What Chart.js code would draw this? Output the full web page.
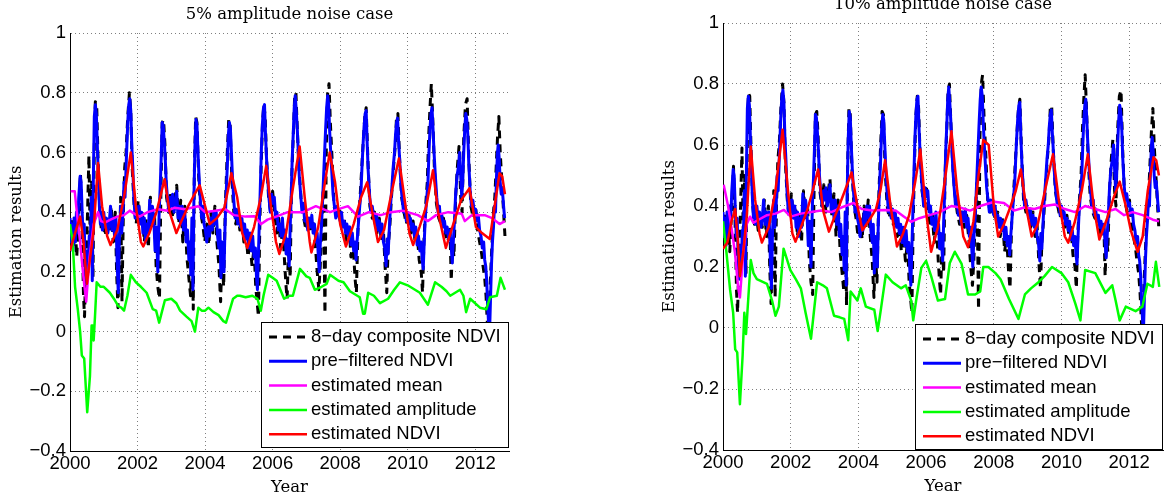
<!DOCTYPE html>
<html>
<head>
<meta charset="utf-8">
<script src="https://cdn.jsdelivr.net/npm/chart.js@4.4.0/dist/chart.umd.min.js"></script>
<style>
  body { margin: 0; background: #fff; }
  #wrap { position: relative; width: 1176px; height: 497px; overflow: hidden; }
  canvas { position: absolute; top: 0; }
</style>
</head>
<body>
<div id="wrap">
  <canvas id="left" width="588" height="497" style="left:0"></canvas>
  <canvas id="right" width="588" height="497" style="left:588px"></canvas>
</div>
<script>
// tick labels, series names, titles
var yearTicks = [2000, 2002, 2004, 2006, 2008, 2010, 2012];
var valueTicks = [-0.4, -0.2, 0, 0.2, 0.4, 0.6, 0.8, 1];
var valueTickLabels = ['\u22120.4', '\u22120.2', '0', '0.2', '0.4', '0.6', '0.8', '1'];
var seriesNames = ['8\u2212day composite NDVI', 'pre\u2212filtered NDVI', 'estimated mean', 'estimated amplitude', 'estimated NDVI'];
var panelTitles = ['5% amplitude noise case', '10% amplitude noise case'];

// [year, value] — 8-day composite NDVI (same input for both cases)
var ndviComposite = [
  [2000.00,0.30],[2000.05,0.38],[2000.10,0.28],[2000.15,0.36],[2000.20,0.25],[2000.26,0.40],[2000.31,0.53],[2000.35,0.38],
  [2000.40,0.12],[2000.43,0.05],[2000.47,0.22],[2000.52,0.40],[2000.56,0.59],[2000.60,0.30],[2000.64,0.50],[2000.68,0.18],
  [2000.72,0.62],[2000.75,0.77],[2000.79,0.76],[2000.83,0.58],[2000.88,0.40],[2000.93,0.34],[2000.98,0.38],
  [2001.04,0.32],[2001.10,0.37],[2001.16,0.33],[2001.22,0.42],[2001.28,0.30],[2001.34,0.40],[2001.38,0.20],[2001.42,0.08],
  [2001.46,0.25],[2001.50,0.45],[2001.54,0.10],[2001.58,0.40],[2001.62,0.55],[2001.66,0.60],[2001.71,0.72],[2001.76,0.80],
  [2001.80,0.74],[2001.84,0.55],[2001.90,0.42],[2001.96,0.36],
  [2002.02,0.44],[2002.08,0.37],[2002.14,0.40],[2002.20,0.30],[2002.26,0.38],[2002.32,0.28],[2002.38,0.45],[2002.44,0.35],
  [2002.50,0.40],[2002.55,0.22],[2002.60,0.15],[2002.65,0.11],[2002.69,0.45],[2002.73,0.70],[2002.77,0.71],[2002.81,0.63],
  [2002.86,0.45],[2002.92,0.40],[2002.98,0.47],
  [2003.04,0.38],[2003.10,0.44],[2003.16,0.49],[2003.22,0.36],[2003.28,0.44],[2003.34,0.30],[2003.40,0.42],[2003.46,0.25],
  [2003.52,0.18],[2003.57,0.12],[2003.62,0.30],[2003.65,0.075],[2003.68,0.52],[2003.72,0.72],[2003.76,0.70],[2003.81,0.52],
  [2003.87,0.40],[2003.93,0.36],[2003.99,0.30],
  [2004.05,0.36],[2004.11,0.29],[2004.17,0.40],[2004.23,0.33],[2004.29,0.42],[2004.35,0.30],[2004.41,0.22],[2004.46,0.10],
  [2004.50,0.25],[2004.55,0.15],[2004.60,0.42],[2004.65,0.58],[2004.70,0.71],[2004.74,0.70],[2004.79,0.52],[2004.85,0.40],
  [2004.91,0.36],[2004.97,0.40],
  [2005.03,0.34],[2005.09,0.37],[2005.15,0.30],[2005.21,0.33],[2005.27,0.25],[2005.33,0.30],[2005.39,0.22],[2005.45,0.28],
  [2005.50,0.15],[2005.54,0.10],[2005.58,0.05],[2005.62,0.35],[2005.66,0.55],[2005.70,0.70],[2005.74,0.76],[2005.78,0.72],
  [2005.82,0.58],[2005.88,0.45],[2005.94,0.40],
  [2006.00,0.47],[2006.06,0.40],[2006.12,0.33],[2006.18,0.38],[2006.24,0.28],[2006.30,0.35],[2006.36,0.22],[2006.40,0.15],
  [2006.43,0.11],[2006.47,0.28],[2006.52,0.18],[2006.56,0.50],[2006.61,0.65],[2006.65,0.78],[2006.69,0.80],[2006.73,0.68],
  [2006.78,0.55],[2006.84,0.45],[2006.92,0.38],[2006.99,0.34],
  [2007.06,0.38],[2007.13,0.33],[2007.20,0.37],[2007.27,0.28],[2007.32,0.20],[2007.37,0.14],[2007.41,0.22],[2007.45,0.35],
  [2007.50,0.48],[2007.55,0.06],[2007.59,0.62],[2007.63,0.80],[2007.67,0.83],[2007.71,0.70],[2007.76,0.58],[2007.82,0.42],
  [2007.90,0.38],[2007.97,0.42],
  [2008.04,0.35],[2008.12,0.38],[2008.19,0.30],[2008.26,0.36],[2008.32,0.25],[2008.38,0.30],[2008.44,0.18],[2008.48,0.13],
  [2008.53,0.35],[2008.59,0.45],[2008.64,0.55],[2008.69,0.65],[2008.73,0.72],[2008.77,0.75],[2008.82,0.58],[2008.88,0.42],
  [2008.95,0.38],
  [2009.02,0.40],[2009.09,0.33],[2009.16,0.38],[2009.22,0.30],[2009.28,0.34],[2009.33,0.22],[2009.38,0.13],[2009.42,0.28],
  [2009.47,0.35],[2009.52,0.45],[2009.58,0.55],[2009.63,0.62],[2009.67,0.72],[2009.71,0.73],[2009.76,0.58],[2009.82,0.45],
  [2009.89,0.40],[2009.96,0.36],
  [2010.03,0.40],[2010.10,0.33],[2010.16,0.37],[2010.22,0.30],[2010.28,0.33],[2010.34,0.24],[2010.40,0.20],[2010.44,0.13],
  [2010.48,0.30],[2010.53,0.42],[2010.58,0.50],[2010.62,0.65],[2010.66,0.75],[2010.70,0.83],[2010.74,0.72],[2010.79,0.55],
  [2010.85,0.43],[2010.92,0.38],[2010.99,0.36],
  [2011.06,0.38],[2011.13,0.32],[2011.19,0.30],[2011.25,0.35],[2011.29,0.17],[2011.33,0.30],[2011.37,0.25],[2011.42,0.45],
  [2011.47,0.55],[2011.52,0.62],[2011.57,0.45],[2011.61,0.40],[2011.66,0.65],[2011.71,0.76],[2011.76,0.78],[2011.81,0.58],
  [2011.87,0.42],[2011.94,0.38],
  [2012.01,0.42],[2012.07,0.34],[2012.13,0.30],[2012.19,0.26],[2012.23,0.22],[2012.28,0.18],[2012.32,0.12],[2012.35,0.05],
  [2012.38,-0.02],[2012.41,0.05],[2012.44,0.15],[2012.49,0.28],[2012.54,0.40],[2012.58,0.45],[2012.62,0.55],[2012.66,0.65],
  [2012.70,0.72],[2012.74,0.60],[2012.79,0.50],[2012.84,0.40],[2012.88,0.32]
];

// pre-filtered NDVI (same for both cases)
var ndviPrefiltered = [
  [2000.00,0.38],[2000.03,0.30],[2000.06,0.36],[2000.09,0.27],[2000.12,0.38],[2000.16,0.30],[2000.19,0.40],[2000.22,0.33],
  [2000.26,0.45],[2000.30,0.52],[2000.33,0.50],[2000.36,0.40],[2000.39,0.30],[2000.42,0.36],[2000.45,0.22],[2000.48,0.16],
  [2000.51,0.27],[2000.54,0.20],[2000.57,0.32],[2000.60,0.28],[2000.63,0.45],[2000.66,0.17],[2000.69,0.50],[2000.72,0.72],
  [2000.75,0.76],[2000.78,0.73],[2000.81,0.62],[2000.84,0.52],[2000.87,0.42],[2000.90,0.36],[2000.93,0.40],[2000.96,0.34],
  [2001.00,0.40],[2001.04,0.35],[2001.08,0.38],[2001.12,0.33],[2001.16,0.36],[2001.20,0.42],[2001.24,0.34],[2001.28,0.38],
  [2001.32,0.32],[2001.36,0.38],[2001.40,0.22],[2001.43,0.13],[2001.46,0.30],[2001.50,0.42],[2001.53,0.33],[2001.57,0.40],
  [2001.60,0.50],[2001.63,0.45],[2001.67,0.58],[2001.71,0.70],[2001.74,0.76],[2001.77,0.78],[2001.80,0.74],[2001.83,0.62],
  [2001.86,0.55],[2001.89,0.45],[2001.93,0.38],[2001.96,0.42],
  [2002.00,0.38],[2002.04,0.42],[2002.08,0.36],[2002.12,0.40],[2002.16,0.33],[2002.20,0.38],[2002.24,0.30],[2002.28,0.36],
  [2002.32,0.33],[2002.36,0.44],[2002.40,0.36],[2002.44,0.42],[2002.48,0.38],[2002.52,0.27],[2002.56,0.35],[2002.60,0.20],
  [2002.64,0.40],[2002.67,0.48],[2002.70,0.58],[2002.73,0.70],[2002.76,0.69],[2002.79,0.64],[2002.82,0.58],[2002.85,0.50],
  [2002.89,0.44],[2002.93,0.40],[2002.97,0.45],
  [2003.00,0.42],[2003.04,0.46],[2003.08,0.40],[2003.12,0.43],[2003.16,0.47],[2003.20,0.38],[2003.24,0.42],[2003.28,0.36],
  [2003.32,0.42],[2003.36,0.34],[2003.40,0.40],[2003.44,0.30],[2003.48,0.34],[2003.52,0.24],[2003.55,0.30],[2003.58,0.19],
  [2003.61,0.38],[2003.64,0.14],[2003.67,0.45],[2003.70,0.62],[2003.73,0.71],[2003.76,0.69],[2003.79,0.60],[2003.82,0.52],
  [2003.86,0.44],[2003.90,0.38],[2003.94,0.42],[2003.97,0.36],
  [2004.01,0.34],[2004.05,0.30],[2004.09,0.35],[2004.13,0.32],[2004.17,0.38],[2004.21,0.34],[2004.25,0.40],[2004.29,0.36],
  [2004.33,0.40],[2004.37,0.32],[2004.41,0.28],[2004.44,0.34],[2004.47,0.18],[2004.50,0.30],[2004.53,0.25],[2004.56,0.20],
  [2004.59,0.35],[2004.62,0.45],[2004.66,0.56],[2004.69,0.66],[2004.72,0.70],[2004.75,0.68],[2004.78,0.60],[2004.81,0.52],
  [2004.85,0.44],[2004.89,0.38],[2004.93,0.41],[2004.97,0.36],
  [2005.01,0.39],[2005.05,0.35],[2005.09,0.38],[2005.13,0.33],[2005.17,0.36],[2005.21,0.31],[2005.25,0.34],[2005.29,0.28],
  [2005.33,0.33],[2005.37,0.27],[2005.41,0.32],[2005.45,0.25],[2005.49,0.28],[2005.52,0.19],[2005.55,0.14],[2005.58,0.26],
  [2005.61,0.38],[2005.64,0.50],[2005.67,0.62],[2005.70,0.70],[2005.73,0.75],[2005.76,0.76],[2005.79,0.66],[2005.82,0.58],
  [2005.85,0.52],[2005.89,0.45],[2005.93,0.40],[2005.97,0.46],
  [2006.01,0.43],[2006.05,0.45],[2006.09,0.38],[2006.13,0.40],[2006.17,0.34],[2006.21,0.36],[2006.25,0.32],[2006.29,0.38],
  [2006.33,0.31],[2006.37,0.34],[2006.40,0.26],[2006.43,0.31],[2006.46,0.28],[2006.49,0.22],[2006.52,0.35],[2006.55,0.45],
  [2006.58,0.58],[2006.61,0.66],[2006.64,0.75],[2006.67,0.79],[2006.70,0.74],[2006.73,0.68],[2006.76,0.60],[2006.79,0.52],
  [2006.83,0.46],[2006.87,0.40],[2006.91,0.43],[2006.95,0.37],
  [2007.00,0.38],[2007.04,0.34],[2007.08,0.38],[2007.12,0.35],[2007.16,0.39],[2007.20,0.33],[2007.24,0.36],[2007.28,0.30],
  [2007.32,0.33],[2007.35,0.26],[2007.38,0.20],[2007.41,0.29],[2007.45,0.36],[2007.48,0.44],[2007.51,0.52],[2007.54,0.60],
  [2007.57,0.68],[2007.60,0.75],[2007.63,0.79],[2007.66,0.76],[2007.69,0.67],[2007.72,0.60],[2007.75,0.54],[2007.79,0.46],
  [2007.83,0.42],[2007.87,0.38],[2007.91,0.42],[2007.95,0.39],
  [2008.00,0.37],[2008.04,0.40],[2008.08,0.35],[2008.12,0.37],[2008.16,0.33],[2008.20,0.36],[2008.24,0.32],[2008.28,0.35],
  [2008.32,0.29],[2008.36,0.33],[2008.40,0.27],[2008.44,0.30],[2008.47,0.24],[2008.50,0.30],[2008.54,0.36],[2008.58,0.42],
  [2008.62,0.48],[2008.65,0.56],[2008.68,0.63],[2008.71,0.69],[2008.74,0.73],[2008.77,0.74],[2008.80,0.63],[2008.83,0.54],
  [2008.87,0.46],[2008.91,0.40],[2008.95,0.42],
  [2009.00,0.38],[2009.04,0.36],[2009.08,0.39],[2009.12,0.34],[2009.16,0.37],[2009.20,0.33],[2009.24,0.36],[2009.28,0.30],
  [2009.32,0.28],[2009.36,0.22],[2009.39,0.31],[2009.42,0.26],[2009.45,0.33],[2009.49,0.42],[2009.53,0.48],[2009.57,0.55],
  [2009.61,0.60],[2009.64,0.66],[2009.67,0.70],[2009.70,0.715],[2009.73,0.64],[2009.76,0.58],[2009.80,0.49],[2009.84,0.44],
  [2009.88,0.40],[2009.92,0.42],[2009.96,0.37],
  [2010.00,0.40],[2010.04,0.36],[2010.08,0.38],[2010.12,0.34],[2010.16,0.36],[2010.20,0.32],[2010.24,0.35],[2010.28,0.29],
  [2010.32,0.32],[2010.36,0.27],[2010.40,0.30],[2010.43,0.24],[2010.46,0.21],[2010.49,0.30],[2010.52,0.38],[2010.56,0.44],
  [2010.60,0.50],[2010.63,0.60],[2010.66,0.68],[2010.69,0.73],[2010.72,0.75],[2010.75,0.68],[2010.78,0.60],[2010.82,0.52],
  [2010.86,0.45],[2010.90,0.40],[2010.94,0.42],[2010.97,0.37],
  [2011.01,0.39],[2011.05,0.35],[2011.09,0.37],[2011.13,0.33],[2011.17,0.35],[2011.21,0.31],[2011.25,0.34],[2011.29,0.28],
  [2011.32,0.23],[2011.35,0.30],[2011.38,0.36],[2011.42,0.46],[2011.46,0.52],[2011.50,0.55],[2011.54,0.60],[2011.57,0.52],
  [2011.60,0.45],[2011.63,0.50],[2011.66,0.60],[2011.69,0.68],[2011.72,0.73],[2011.75,0.71],[2011.78,0.66],[2011.81,0.56],
  [2011.85,0.47],[2011.89,0.42],[2011.93,0.44],[2011.97,0.40],
  [2012.01,0.41],[2012.05,0.37],[2012.09,0.39],[2012.13,0.34],[2012.17,0.32],[2012.21,0.28],[2012.25,0.30],[2012.28,0.24],
  [2012.31,0.22],[2012.34,0.17],[2012.37,0.08],[2012.40,0.02],[2012.42,-0.02],[2012.45,0.10],[2012.48,0.22],[2012.51,0.30],
  [2012.54,0.35],[2012.57,0.42],[2012.60,0.40],[2012.63,0.52],[2012.66,0.60],[2012.68,0.625],[2012.71,0.58],[2012.74,0.50],
  [2012.77,0.46],[2012.80,0.48],[2012.84,0.42],[2012.87,0.38]
];

// 5% case estimates
var mean5 = [
  [2000.02,0.47],[2000.14,0.47],[2000.22,0.38],[2000.30,0.30],[2000.40,0.18],[2000.48,0.10],[2000.58,0.25],[2000.70,0.36],
  [2000.83,0.40],[2000.92,0.37],[2001.03,0.365],[2001.20,0.375],[2001.40,0.385],[2001.60,0.39],[2001.77,0.405],[2001.90,0.395],
  [2002.06,0.385],[2002.30,0.40],[2002.60,0.41],[2002.90,0.405],[2003.10,0.415],[2003.40,0.41],[2003.80,0.42],[2004.00,0.40],
  [2004.30,0.405],[2004.60,0.41],[2004.85,0.39],[2005.20,0.385],[2005.47,0.386],[2005.66,0.36],[2005.85,0.375],[2006.10,0.385],
  [2006.45,0.40],[2006.90,0.40],[2007.28,0.42],[2007.50,0.41],[2007.70,0.40],[2007.95,0.41],[2008.23,0.42],[2008.53,0.385],
  [2008.85,0.40],[2009.20,0.39],[2009.50,0.40],[2009.85,0.405],[2010.00,0.40],[2010.30,0.39],[2010.60,0.37],[2010.84,0.39],
  [2011.20,0.40],[2011.60,0.395],[2011.69,0.37],[2011.90,0.39],[2012.28,0.39],[2012.50,0.38],[2012.72,0.36],[2012.88,0.37]
];
var amp5 = [
  [2000.00,0.36],[2000.08,0.30],[2000.15,0.15],[2000.23,0.075],[2000.30,0.00],[2000.35,-0.08],[2000.42,-0.09],[2000.51,-0.27],
  [2000.59,-0.15],[2000.64,0.02],[2000.67,0.02],[2000.70,-0.03],[2000.74,0.05],[2000.79,0.165],[2000.90,0.15],[2001.00,0.15],
  [2001.18,0.13],[2001.30,0.11],[2001.43,0.085],[2001.52,0.08],[2001.60,0.07],[2001.70,0.12],[2001.80,0.19],[2001.95,0.165],
  [2002.10,0.15],[2002.27,0.13],[2002.45,0.075],[2002.55,0.07],[2002.64,0.03],[2002.81,0.105],[2003.00,0.11],[2003.15,0.095],
  [2003.26,0.07],[2003.45,0.05],[2003.60,0.035],[2003.70,0.00],[2003.80,0.08],[2003.90,0.07],[2004.00,0.07],[2004.10,0.08],
  [2004.25,0.065],[2004.40,0.055],[2004.54,0.035],[2004.62,0.03],[2004.83,0.11],[2004.95,0.12],[2005.03,0.12],[2005.20,0.115],
  [2005.40,0.12],[2005.55,0.11],[2005.65,0.07],[2005.73,0.12],[2005.87,0.19],[2006.00,0.18],[2006.12,0.17],[2006.34,0.11],
  [2006.50,0.12],[2006.60,0.12],[2006.81,0.21],[2007.00,0.185],[2007.10,0.18],[2007.25,0.14],[2007.45,0.15],[2007.60,0.16],
  [2007.70,0.19],[2007.95,0.17],[2008.10,0.165],[2008.29,0.135],[2008.58,0.115],[2008.68,0.06],[2008.73,0.06],[2008.83,0.13],
  [2009.00,0.12],[2009.18,0.095],[2009.42,0.11],[2009.60,0.14],[2009.77,0.165],[2010.00,0.155],[2010.36,0.13],[2010.60,0.09],
  [2010.81,0.165],[2011.00,0.15],[2011.15,0.135],[2011.26,0.12],[2011.55,0.14],[2011.65,0.12],[2011.73,0.065],[2011.85,0.11],
  [2012.14,0.08],[2012.33,0.075],[2012.44,0.115],[2012.64,0.12],[2012.75,0.18],[2012.88,0.14]
];
var est5 = [
  [2000.00,0.27],[2000.15,0.33],[2000.30,0.385],[2000.40,0.30],[2000.50,0.16],[2000.60,0.25],[2000.70,0.34],[2000.83,0.565],
  [2000.95,0.42],[2001.10,0.32],[2001.20,0.29],[2001.40,0.34],[2001.60,0.45],[2001.80,0.60],[2001.95,0.42],[2002.10,0.30],
  [2002.17,0.285],[2002.35,0.33],[2002.56,0.40],[2002.80,0.51],[2002.95,0.40],[2003.15,0.33],[2003.30,0.37],[2003.50,0.42],
  [2003.64,0.45],[2003.84,0.49],[2004.00,0.42],[2004.14,0.36],[2004.35,0.38],[2004.57,0.415],[2004.78,0.53],[2004.95,0.45],
  [2005.10,0.33],[2005.25,0.28],[2005.45,0.35],[2005.65,0.45],[2005.81,0.555],[2005.95,0.42],[2006.10,0.30],[2006.20,0.26],
  [2006.40,0.33],[2006.60,0.48],[2006.80,0.62],[2006.95,0.45],[2007.10,0.30],[2007.15,0.265],[2007.35,0.35],[2007.55,0.50],
  [2007.69,0.60],[2007.85,0.50],[2008.00,0.36],[2008.17,0.285],[2008.40,0.36],[2008.62,0.45],[2008.80,0.50],[2008.95,0.40],
  [2009.12,0.30],[2009.30,0.34],[2009.55,0.48],[2009.74,0.58],[2009.90,0.45],[2010.05,0.33],[2010.16,0.29],[2010.35,0.35],
  [2010.55,0.42],[2010.75,0.54],[2010.90,0.40],[2011.13,0.28],[2011.35,0.36],[2011.58,0.44],[2011.83,0.48],[2012.02,0.35],
  [2012.20,0.33],[2012.43,0.31],[2012.60,0.44],[2012.72,0.53],[2012.80,0.52],[2012.88,0.46]
];

// 10% case estimates
var mean10 = [
  [2000.02,0.47],[2000.15,0.40],[2000.25,0.33],[2000.35,0.25],[2000.45,0.13],[2000.50,0.10],[2000.60,0.25],[2000.70,0.34],
  [2000.80,0.365],[2000.90,0.345],[2001.05,0.355],[2001.30,0.37],[2001.55,0.375],[2001.80,0.387],[2002.00,0.365],[2002.30,0.375],
  [2002.60,0.38],[2002.90,0.385],[2003.20,0.38],[2003.50,0.395],[2003.86,0.41],[2004.10,0.39],[2004.40,0.385],[2004.80,0.387],
  [2005.10,0.385],[2005.35,0.365],[2005.56,0.348],[2005.80,0.36],[2006.10,0.37],[2006.40,0.38],[2006.75,0.40],[2007.00,0.395],
  [2007.30,0.385],[2007.60,0.40],[2008.02,0.414],[2008.30,0.41],[2008.60,0.385],[2008.90,0.395],[2009.20,0.39],[2009.50,0.40],
  [2009.80,0.405],[2010.10,0.39],[2010.40,0.38],[2010.70,0.40],[2011.00,0.39],[2011.30,0.38],[2011.60,0.39],[2011.85,0.37],
  [2012.10,0.38],[2012.40,0.37],[2012.70,0.355],[2012.88,0.35]
];
var amp10 = [
  [2000.00,0.35],[2000.10,0.25],[2000.21,0.125],[2000.30,0.05],[2000.36,-0.07],[2000.42,-0.08],[2000.50,-0.25],[2000.58,-0.09],
  [2000.63,0.05],[2000.68,-0.02],[2000.72,0.05],[2000.82,0.223],[2000.90,0.18],[2001.00,0.16],[2001.30,0.145],[2001.45,0.09],
  [2001.55,0.04],[2001.65,0.07],[2001.79,0.26],[2001.99,0.19],[2002.15,0.16],[2002.30,0.13],[2002.44,0.05],[2002.60,-0.035],
  [2002.78,0.15],[2002.95,0.14],[2003.07,0.13],[2003.28,0.04],[2003.45,0.035],[2003.58,0.03],[2003.70,-0.04],[2003.77,0.12],
  [2003.97,0.09],[2004.07,0.13],[2004.22,0.07],[2004.47,0.06],[2004.57,-0.01],[2004.67,0.065],[2004.81,0.175],[2005.01,0.15],
  [2005.26,0.13],[2005.40,0.14],[2005.56,0.09],[2005.62,0.025],[2005.72,0.10],[2005.86,0.197],[2006.00,0.22],[2006.15,0.17],
  [2006.35,0.09],[2006.56,0.095],[2006.70,0.213],[2006.85,0.25],[2007.05,0.21],[2007.24,0.11],[2007.45,0.11],[2007.60,0.12],
  [2007.69,0.20],[2007.84,0.20],[2008.05,0.18],[2008.20,0.16],[2008.45,0.095],[2008.73,0.03],[2008.92,0.11],[2009.10,0.13],
  [2009.32,0.15],[2009.50,0.17],[2009.72,0.20],[2010.00,0.18],[2010.20,0.15],[2010.41,0.08],[2010.56,0.025],[2010.70,0.19],
  [2011.00,0.18],[2011.30,0.115],[2011.50,0.14],[2011.60,0.09],[2011.72,0.025],[2011.90,0.07],[2012.19,0.055],[2012.39,0.07],
  [2012.54,0.145],[2012.70,0.135],[2012.79,0.217],[2012.89,0.135]
];
var est10 = [
  [2000.00,0.26],[2000.13,0.28],[2000.25,0.35],[2000.36,0.39],[2000.43,0.30],[2000.50,0.17],[2000.60,0.25],[2000.70,0.365],
  [2000.82,0.595],[2000.95,0.42],[2001.08,0.31],[2001.15,0.28],[2001.35,0.33],[2001.55,0.45],[2001.76,0.65],[2001.92,0.45],
  [2002.05,0.31],[2002.14,0.283],[2002.30,0.33],[2002.49,0.387],[2002.65,0.45],[2002.81,0.52],[2002.97,0.38],[2003.13,0.316],
  [2003.28,0.36],[2003.43,0.40],[2003.60,0.45],[2003.80,0.51],[2003.97,0.40],[2004.12,0.32],[2004.30,0.35],[2004.52,0.39],
  [2004.65,0.45],[2004.79,0.55],[2004.95,0.40],[2005.14,0.267],[2005.32,0.31],[2005.50,0.37],[2005.68,0.48],[2005.83,0.585],
  [2006.00,0.38],[2006.15,0.25],[2006.35,0.33],[2006.55,0.48],[2006.75,0.645],[2006.92,0.45],[2007.10,0.30],[2007.24,0.265],
  [2007.40,0.35],[2007.55,0.50],[2007.69,0.617],[2007.85,0.60],[2008.00,0.40],[2008.13,0.30],[2008.30,0.34],[2008.50,0.40],
  [2008.65,0.45],[2008.80,0.52],[2008.95,0.40],[2009.12,0.30],[2009.30,0.34],[2009.55,0.47],[2009.75,0.57],[2009.92,0.42],
  [2010.10,0.30],[2010.20,0.28],[2010.40,0.35],[2010.60,0.45],[2010.78,0.57],[2010.95,0.40],[2011.12,0.29],[2011.35,0.36],
  [2011.55,0.43],[2011.72,0.48],[2011.90,0.40],[2012.05,0.32],[2012.25,0.25],[2012.40,0.30],[2012.55,0.45],[2012.72,0.56],
  [2012.80,0.55],[2012.88,0.50]
];

Chart.defaults.font.family = '"Liberation Sans", Arial, sans-serif';
Chart.defaults.font.size = 18.5;
Chart.defaults.color = '#000';

function toPoints(arr) {
  return arr.map(function(p) { return {x: p[0], y: p[1]}; });
}

// titles, axis titles and the boxed legend
var decorations = {
  id: 'decorations',
  afterDatasetsDraw: function(chart, args, o) {
    var ctx = chart.ctx, a = chart.chartArea;
    var bx = a.right - o.boxW, by = a.bottom - o.boxGap - o.boxH;
    ctx.save();
    ctx.fillStyle = '#fff';
    ctx.fillRect(bx, by, o.boxW, o.boxH);
    ctx.strokeStyle = '#000';
    ctx.lineWidth = 1;
    ctx.strokeRect(bx + 0.5, by + 0.5, o.boxW - 1, o.boxH - 1);
    ctx.font = '18.5px "Liberation Sans", Arial, sans-serif';
    ctx.textBaseline = 'middle';
    ctx.fillStyle = '#000';
    chart.data.datasets.forEach(function(ds, i) {
      var y = by + 15 + i * 24.3;
      ctx.beginPath();
      ctx.setLineDash(ds.borderDash || []);
      ctx.strokeStyle = ds.borderColor;
      ctx.lineWidth = ds.borderWidth;
      ctx.moveTo(bx + 8, y);
      ctx.lineTo(bx + 46, y);
      ctx.stroke();
      ctx.setLineDash([]);
      ctx.fillText(ds.label, bx + 50, y);
    });
    ctx.restore();
  },
  afterDraw: function(chart, args, o) {
    var ctx = chart.ctx, a = chart.chartArea;
    var cx = (a.left + a.right) / 2;
    ctx.save();
    ctx.fillStyle = '#000';
    ctx.font = '16.5px "DejaVu Serif", serif';
    ctx.textAlign = 'center';
    ctx.textBaseline = 'alphabetic';
    ctx.fillText(o.title, cx, a.top - 14.5);
    ctx.fillText('Year', cx, a.bottom + 40.5);
    ctx.translate(a.left - 53, (a.top + a.bottom) / 2);
    ctx.rotate(-Math.PI / 2);
    ctx.textBaseline = 'middle';
    ctx.fillText('Estimation results', 0, 0);
    ctx.restore();
  }
};

function makeChart(id, title, mean, amp, est, pad, xHeight, boxGap) {
  var data = [ndviComposite, ndviPrefiltered, mean, amp, est];
  var colors = ['#000000', '#0000ff', '#ff00ff', '#00ff00', '#ff0000'];
  var widths = [3, 3, 2.5, 2.5, 2.5];
  var gridColor = 'rgba(0,0,0,0.5)';
  var datasets = data.map(function(d, i) {
    return {
      label: seriesNames[i],
      data: toPoints(d),
      borderColor: colors[i],
      backgroundColor: colors[i],
      borderWidth: widths[i],
      borderDash: i === 0 ? [8, 6] : [],
      borderJoinStyle: 'round',
      pointRadius: 0,
      tension: 0,
      fill: false,
      order: 5 - i
    };
  });
  return new Chart(document.getElementById(id), {
    type: 'line',
    data: { datasets: datasets },
    plugins: [decorations],
    options: {
      responsive: false,
      animation: false,
      devicePixelRatio: 1,
      events: [],
      layout: { padding: pad },
      plugins: {
        legend: { display: false },
        tooltip: { enabled: false },
        decorations: { title: title, boxW: 248, boxH: 126, boxGap: boxGap }
      },
      scales: {
        x: {
          type: 'linear',
          min: 2000,
          max: 2013,
          afterBuildTicks: function(s) { s.ticks = yearTicks.map(function(v) { return {value: v}; }); },
          afterFit: function(s) { s.height = xHeight; },
          ticks: { autoSkip: false, maxRotation: 0, padding: 2,
                   callback: function(v, i) { return String(yearTicks[i]); } },
          grid: { color: gridColor, lineWidth: 1, drawTicks: false },
          border: { display: true, color: '#000', width: 1, dash: [1, 3] }
        },
        y: {
          type: 'linear',
          min: -0.4,
          max: 1,
          afterBuildTicks: function(s) { s.ticks = valueTicks.map(function(v) { return {value: v}; }); },
          afterFit: function(s) { s.width = 70; },
          ticks: { autoSkip: false, padding: 4,
                   callback: function(v, i) { return valueTickLabels[i]; } },
          grid: { color: gridColor, lineWidth: 1, drawTicks: false },
          border: { display: true, color: '#000', width: 1, dash: [1, 3] }
        }
      }
    }
  });
}

makeChart('left', panelTitles[0], mean5, amp5, est5, {left: 0, right: 79, top: 33, bottom: 0}, 46, 3);
makeChart('right', panelTitles[1], mean10, amp10, est10, {left: 65, right: 13, top: 23, bottom: 0}, 47, 0);
</script>
</body>
</html>
